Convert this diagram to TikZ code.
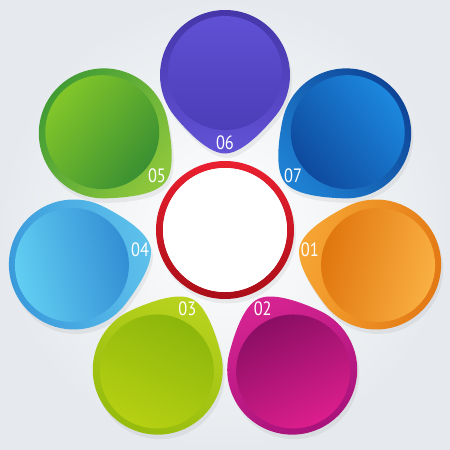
\documentclass[tikz,border=0pt]{standalone}
\usepackage{fontspec}
\usepackage{xcolor}
\usepackage{tikz}
\usetikzlibrary{shapes, positioning, calc, shadows}
\newfontfamily\numfont[FakeStretch=0.85]{PT Sans}

% Colours: body light/dark, disc dark/light
\definecolor{orangeL}{RGB}{246,166,52}
\definecolor{orangeD}{RGB}{226,118,18}
\definecolor{orangeDiscD}{RGB}{224,118,14}
\definecolor{orangeDiscL}{RGB}{250,176,66}
\definecolor{magentaL}{RGB}{214,36,146}
\definecolor{magentaD}{RGB}{166,18,122}
\definecolor{magentaDiscD}{RGB}{138,14,100}
\definecolor{magentaDiscL}{RGB}{220,30,140}
\definecolor{limeL}{RGB}{184,210,30}
\definecolor{limeD}{RGB}{148,186,12}
\definecolor{limeDiscD}{RGB}{140,182,12}
\definecolor{limeDiscL}{RGB}{182,208,18}
\definecolor{skyL}{RGB}{94,194,236}
\definecolor{skyD}{RGB}{56,152,218}
\definecolor{skyDiscD}{RGB}{50,142,212}
\definecolor{skyDiscL}{RGB}{98,206,242}
\definecolor{greenL}{RGB}{140,198,60}
\definecolor{greenD}{RGB}{62,154,52}
\definecolor{greenDiscD}{RGB}{58,144,50}
\definecolor{greenDiscL}{RGB}{130,198,42}
\definecolor{purpleL}{RGB}{98,82,214}
\definecolor{purpleD}{RGB}{68,52,166}
\definecolor{purpleDiscD}{RGB}{76,61,184}
\definecolor{purpleDiscL}{RGB}{96,80,212}
\definecolor{blueL}{RGB}{30,128,210}
\definecolor{blueD}{RGB}{14,68,150}
\definecolor{blueDiscD}{RGB}{14,74,158}
\definecolor{blueDiscL}{RGB}{28,136,222}
\definecolor{ringtop}{RGB}{234,32,48}
\definecolor{ringbot}{RGB}{170,14,24}
\definecolor{bgedge}{RGB}{230,234,238}

\tikzstyle{numlabel} = [text=white, font=\numfont\fontsize{11}{13}\selectfont, inner sep=0pt]
\tikzstyle{softshadow} = [drop shadow={opacity=0.12, shadow xshift=0.4mm, shadow yshift=-0.9mm}]

% #1 label, #2 position angle, #3/#4 body colours, #5/#6 disc colours
\newcommand{\drawpetal}[6]{%
  \pgfmathsetmacro{\tipang}{#2+180}
  \pgfmathsetmacro{\sideA}{\tipang+50}
  \pgfmathsetmacro{\sideB}{\tipang-50}
  \pgfmathsetmacro{\dirA}{\sideA-90}
  \pgfmathsetmacro{\dirB}{\sideB+90}
  \pgfmathsetmacro{\tipL}{\tipang-90}
  \pgfmathsetmacro{\tipR}{\tipang+90}
  \pgfmathsetmacro{\shadang}{\tipang-90}
  \coordinate (p#1) at (#2:3.1);
  \begin{scope}[shift={(p#1)}]
    \coordinate (a#1) at (\sideB:1.3);
    \coordinate (t#1) at (\tipang:1.57);
    \coordinate (b#1) at (\sideA:1.3);
    \shade[softshadow, top color=#3, bottom color=#4, shading angle=\shadang]
      (a#1) .. controls +(\dirB:0.5) and +(\tipL:0.3) .. (t#1)
            .. controls +(\tipR:0.3) and +(\dirA:0.5) .. (b#1)
      arc[start angle=\sideA, end angle=\sideB+360, radius=1.3] -- cycle;
    \shade[top color=#5, bottom color=#6, shading angle=\shadang] (\tipang:-0.04) circle (1.14);
    \node[numlabel] (lbl#1) at (\tipang:1.36) {#1};
  \end{scope}
}

\begin{document}
\begin{tikzpicture}
  % Background
  \path[use as bounding box] (-4.5,-4.4) rectangle (4.5,4.6);
  \shade[inner color=white, outer color=bgedge] (-4.5,-4.4) rectangle (4.5,4.6);

  % Petals around the hub
  \drawpetal{06}{90}{purpleL}{purpleD}{purpleDiscD}{purpleDiscL}
  \drawpetal{07}{38.57}{blueL}{blueD}{blueDiscD}{blueDiscL}
  \drawpetal{01}{-12.86}{orangeL}{orangeD}{orangeDiscD}{orangeDiscL}
  \drawpetal{02}{-64.29}{magentaL}{magentaD}{magentaDiscD}{magentaDiscL}
  \drawpetal{03}{-115.71}{limeL}{limeD}{limeDiscD}{limeDiscL}
  \drawpetal{04}{-167.14}{skyL}{skyD}{skyDiscD}{skyDiscL}
  \drawpetal{05}{141.43}{greenL}{greenD}{greenDiscD}{greenDiscL}

  % Centre ring
  \coordinate (hub) at (0,0);
  \shade[softshadow, even odd rule, top color=ringtop, bottom color=ringbot] (hub) circle (1.38) (hub) circle (1.24);
  \fill[white] (hub) circle (1.24);
\end{tikzpicture}
\end{document}
